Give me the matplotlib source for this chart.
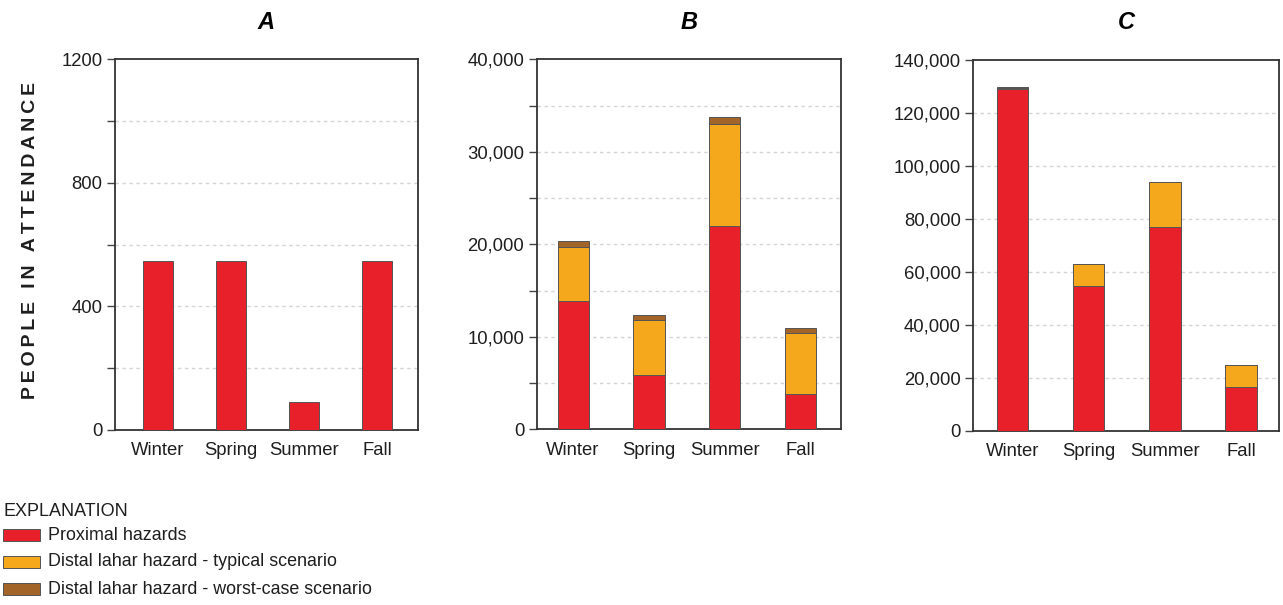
import numpy as np
import matplotlib
matplotlib.use("Agg")
import matplotlib.pyplot as plt
from matplotlib.patches import Rectangle
from matplotlib.ticker import FuncFormatter, MultipleLocator

plt.rcParams["font.family"] = ["Liberation Sans", "DejaVu Sans"]

# ── data ──
seasons = ["Winter", "Spring", "Summer", "Fall"]

a_proximal = [548, 548, 92, 548]

b_proximal = [13900, 5900, 22000, 3800]
b_typical = [5800, 5900, 11000, 6600]
b_worst = [700, 600, 800, 600]

c_proximal = [129000, 54500, 77000, 16500]
c_typical = [500, 8500, 17000, 8500]
c_worst = [300, 0, 0, 0]

legend_labels = [
    "Proximal hazards",
    "Distal lahar hazard - typical scenario",
    "Distal lahar hazard - worst-case scenario",
]

RED = "#E8202A"
ORANGE = "#F6A81D"
BROWN = "#A3642A"
EDGE = "#555555"
GRID = "#d4d4d4"

fig = plt.figure(figsize=(12.83, 6.05), dpi=100)

axA = fig.add_axes([0.0896, 0.2893, 0.2362, 0.6124])
axB = fig.add_axes([0.4183, 0.2904, 0.2372, 0.6116])
axC = fig.add_axes([0.7586, 0.2881, 0.2383, 0.6127])

x = np.arange(len(seasons))
width = 0.41


def stack(ax, layers, colors):
    bottom = np.zeros(len(seasons))
    for vals, col in zip(layers, colors):
        vals = np.array(vals, dtype=float)
        ax.bar(x, vals, width, bottom=bottom, color=col,
               edgecolor=EDGE, linewidth=0.7, zorder=3)
        bottom += vals


def style(ax, ymax, major, minor, xlim, title, comma=True):
    ax.set_ylim(0, ymax)
    ax.set_xlim(*xlim)
    ax.yaxis.set_major_locator(MultipleLocator(major))
    ax.yaxis.set_minor_locator(MultipleLocator(minor))
    if comma:
        ax.yaxis.set_major_formatter(FuncFormatter(lambda v, p: f"{int(v):,}"))
    else:
        ax.yaxis.set_major_formatter(FuncFormatter(lambda v, p: f"{int(v)}"))
    # dashed gridlines at every minor step, except the frame edges
    for g in np.arange(minor, ymax, minor):
        ax.axhline(g, color=GRID, linestyle=(0, (2.5, 2.5)), linewidth=1.0, zorder=1)
    ax.set_xticks(x)
    ax.set_xticklabels(seasons, fontsize=13.3, color="#1e1e1e")
    ax.tick_params(axis="x", length=0, pad=9)
    ax.tick_params(axis="y", which="both", direction="out", length=6,
                   width=1, color="#444444", labelsize=13.3, labelcolor="#1e1e1e", pad=3)
    for s in ax.spines.values():
        s.set_color("#333333")
        s.set_linewidth(1.3)
    ax.set_title(title, fontsize=17, fontweight="bold", fontstyle="italic", pad=22)


stack(axA, [a_proximal], [RED])
style(axA, 1200, 400, 200, (-0.59, 3.56), "A", comma=False)

stack(axB, [b_proximal, b_typical, b_worst], [RED, ORANGE, BROWN])
style(axB, 40000, 10000, 5000, (-0.48, 3.53), "B")

stack(axC, [c_proximal, c_typical, c_worst], [RED, ORANGE, BROWN])
style(axC, 140000, 20000, 20000, (-0.52, 3.50), "C")

ylabel = "\u2009".join("PEOPLE IN ATTENDANCE")
fig.text(0.0235, 0.602, ylabel, rotation=90, ha="center", va="center",
         fontsize=14, fontweight="bold", color="#1e1e1e")

# ── explanation / legend ──
fig.text(0.003, 1 - 511 / 605, "EXPLANATION", fontsize=13,
         ha="left", va="center", color="#1e1e1e")
rows_y = [535, 562, 589]
for lab, col, yy in zip(legend_labels, [RED, ORANGE, BROWN], rows_y):
    fig.patches.append(Rectangle((3 / 1283, 1 - (yy + 6) / 605), 37 / 1283, 12 / 605,
                                 transform=fig.transFigure, facecolor=col,
                                 edgecolor=EDGE, linewidth=0.7))
    fig.text(48 / 1283, 1 - yy / 605, lab, fontsize=12.9, ha="left",
             va="center", color="#1e1e1e")

fig.savefig("out.png", dpi=100)
